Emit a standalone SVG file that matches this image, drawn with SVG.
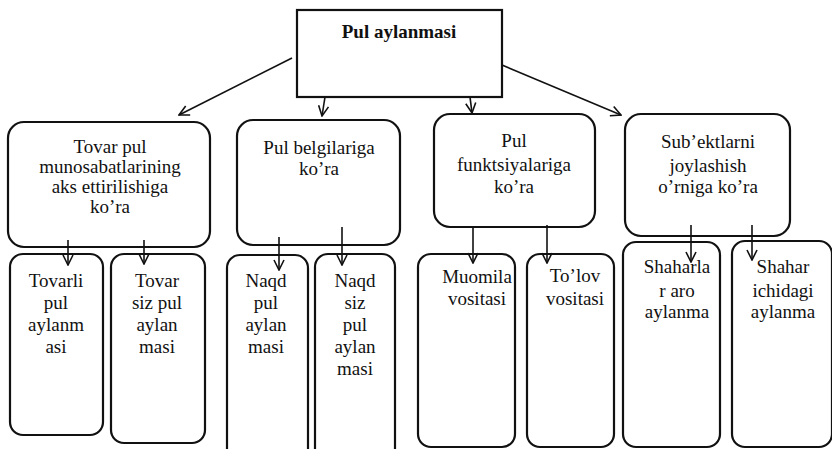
<svg xmlns="http://www.w3.org/2000/svg" width="832" height="449" viewBox="0 0 832 449">
<style>
.box{fill:#fff;stroke:#111;stroke-width:2.2}
.t{font-family:"Liberation Serif","Times New Roman",serif;font-size:19px;fill:#111;text-anchor:middle}
.b{font-weight:bold}
.c{stroke:#111;stroke-width:1.6;fill:none}
</style>
<defs>
<marker id="ah" markerWidth="12" markerHeight="12" refX="11" refY="6" orient="auto" markerUnits="userSpaceOnUse">
<path d="M1,1 L11,6 L1,11" fill="none" stroke="#111" stroke-width="1.6"/>
</marker>
</defs>
<rect width="832" height="449" fill="#fff"/>
<g id="top">
<rect class="box" x="297" y="10" width="205" height="87"/>
<text class="t b" x="399" y="38">Pul aylanmasi</text>
</g>
<g id="n1">
<rect class="box" x="8" y="122" width="202" height="125" rx="16"/>
<text class="t" x="110" y="153">Tovar pul</text>
<text class="t" x="110" y="173">munosabatlarining</text>
<text class="t" x="110" y="193">aks ettirilishiga</text>
<text class="t" x="110" y="213">ko’ra</text>
</g>
<g id="n2">
<rect class="box" x="237" y="120" width="163" height="125" rx="16"/>
<text class="t" x="319" y="154">Pul belgilariga</text>
<text class="t" x="319" y="175">ko’ra</text>
</g>
<g id="n3">
<rect class="box" x="434" y="114" width="161" height="113" rx="16"/>
<text class="t" x="514" y="147">Pul</text>
<text class="t" x="514" y="171">funktsiyalariga</text>
<text class="t" x="514" y="193">ko’ra</text>
</g>
<g id="n4">
<rect class="box" x="625" y="114" width="165" height="122" rx="16"/>
<text class="t" x="708" y="148">Sub’ektlarni</text>
<text class="t" x="708" y="172">joylashish</text>
<text class="t" x="708" y="193">o’rniga ko’ra</text>
</g>
<g id="a">
<rect class="box" x="10" y="254" width="93" height="181" rx="13"/>
<text class="t" x="56" y="287">Tovarli</text>
<text class="t" x="56" y="309">pul</text>
<text class="t" x="56" y="331">aylanm</text>
<text class="t" x="56" y="353">asi</text>
</g>
<g id="b">
<rect class="box" x="111" y="254" width="94" height="189" rx="13"/>
<text class="t" x="157" y="287">Tovar</text>
<text class="t" x="157" y="309">siz pul</text>
<text class="t" x="157" y="331">aylan</text>
<text class="t" x="157" y="353">masi</text>
</g>
<g id="c">
<rect class="box" x="227" y="255" width="81" height="210" rx="13"/>
<text class="t" x="266" y="287">Naqd</text>
<text class="t" x="266" y="309">pul</text>
<text class="t" x="266" y="331">aylan</text>
<text class="t" x="266" y="353">masi</text>
</g>
<g id="d">
<rect class="box" x="315" y="254" width="80" height="211" rx="13"/>
<text class="t" x="355" y="287">Naqd</text>
<text class="t" x="355" y="309">siz</text>
<text class="t" x="355" y="331">pul</text>
<text class="t" x="355" y="353">aylan</text>
<text class="t" x="355" y="375">masi</text>
</g>
<g id="e">
<rect class="box" x="418" y="254" width="97" height="193" rx="13"/>
<text class="t" x="477" y="283">Muomila</text>
<text class="t" x="477" y="305">vositasi</text>
</g>
<g id="f">
<rect class="box" x="527" y="254" width="87" height="193" rx="13"/>
<text class="t" x="575" y="282">To’lov</text>
<text class="t" x="575" y="305">vositasi</text>
</g>
<g id="g">
<rect class="box" x="623" y="242" width="97" height="205" rx="13"/>
<text class="t" x="677" y="273">Shaharla</text>
<text class="t" x="677" y="297">r aro</text>
<text class="t" x="677" y="318">aylanma</text>
</g>
<g id="h">
<rect class="box" x="732" y="241" width="100" height="206" rx="13"/>
<text class="t" x="783" y="273">Shahar</text>
<text class="t" x="783" y="297">ichidagi</text>
<text class="t" x="783" y="318">aylanma</text>
</g>
<g id="connectors">
<line class="c" x1="292" y1="58" x2="179" y2="115" marker-end="url(#ah)"/>
<line class="c" x1="325" y1="97" x2="322" y2="116" marker-end="url(#ah)"/>
<line class="c" x1="470" y1="97" x2="472" y2="113" marker-end="url(#ah)"/>
<line class="c" x1="502" y1="65" x2="621" y2="115" marker-end="url(#ah)"/>
<line class="c" x1="68" y1="240" x2="68" y2="265" marker-end="url(#ah)"/>
<line class="c" x1="144" y1="240" x2="144" y2="264" marker-end="url(#ah)"/>
<line class="c" x1="279" y1="237" x2="279" y2="270" marker-end="url(#ah)"/>
<line class="c" x1="342" y1="227" x2="342" y2="265" marker-end="url(#ah)"/>
<line class="c" x1="473" y1="227" x2="473" y2="263" marker-end="url(#ah)"/>
<line class="c" x1="547" y1="225" x2="547" y2="263" marker-end="url(#ah)"/>
<line class="c" x1="691" y1="225" x2="691" y2="262" marker-end="url(#ah)"/>
<line class="c" x1="752" y1="225" x2="752" y2="260" marker-end="url(#ah)"/>
</g>
</svg>
